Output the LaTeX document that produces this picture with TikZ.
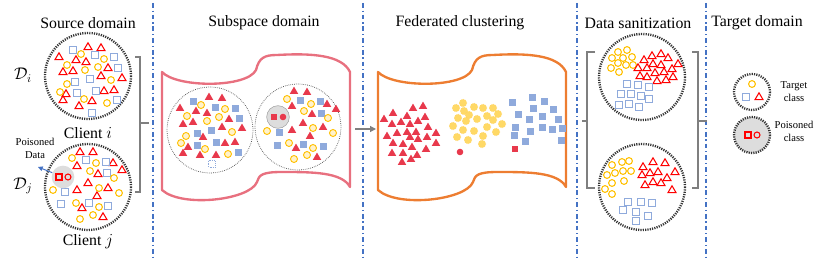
\documentclass[tikz,border=0pt]{standalone}
\usepackage{fontspec}
\setmainfont{Liberation Serif}
\usetikzlibrary{arrows.meta}

\definecolor{mkred}{HTML}{FF0000}
\definecolor{fillred}{HTML}{E8394C}
\definecolor{mkyellow}{HTML}{FFC000}
\definecolor{paleyellow}{HTML}{FFE9A8}
\definecolor{dotyellow}{HTML}{FFD966}
\definecolor{mkblue}{HTML}{8FAADC}
\definecolor{pinkframe}{HTML}{E8707F}
\definecolor{orangeframe}{HTML}{ED7D31}
\definecolor{lineblue}{HTML}{4472C4}
\definecolor{brkgray}{HTML}{7F7F7F}
\definecolor{shadegray}{HTML}{DDDDDD}

\tikzset{
  % outlined markers (source / sanitization / legend)
  otri/.pic={\draw[mkred, line width=0.9pt] (-4,2.6) -- (4,2.6) -- (0,-4.2) -- cycle;},
  osq/.pic={\draw[mkblue, line width=0.9pt] (-3.3,-3.3) rectangle (3.3,3.3);},
  ocirc/.pic={\draw[mkyellow, line width=0.9pt] (0,0) circle (3.4);},
  orsq/.pic={\draw[mkred, line width=0.9pt] (-3,-3) rectangle (3,3);},
  orcirc/.pic={\draw[mkred, line width=0.9pt] (0,0) circle (3);},
  % filled markers (subspace / clustering)
  ftri/.pic={\fill[fillred] (-4.2,2.8) -- (4.2,2.8) -- (0,-4.4) -- cycle;},
  fsq/.pic={\fill[mkblue] (-3.5,-3.5) rectangle (3.5,3.5);},
  ycirc/.pic={\draw[mkyellow, fill=paleyellow!60, line width=0.8pt] (0,0) circle (3.5);},
  fcirc/.pic={\draw[dotyellow!90!orange, fill=dotyellow, line width=0.5pt, densely dotted] (0,0) circle (3.8);},
  dsq/.pic={\draw[mkblue, line width=0.6pt, densely dotted] (-3.3,-3.3) rectangle (3.3,3.3);},
  frsq/.pic={\fill[fillred] (-3.3,-3.3) rectangle (3.3,3.3);},
  frcirc/.pic={\fill[fillred] (0,0) circle (3.3);},
  % wave shaped frame
  wave/.pic={\draw[line width=2pt, line join=round]
    (0,72) .. controls (15,88) and (85,88) .. (94,70)
    .. controls (97,58) and (102,55) .. (115,55)
    .. controls (150,53) and (180,55) .. (188,72) -- (188,187)
    .. controls (180,172) and (150,172) .. (120,172)
    .. controls (100,172) and (97,175) .. (95,182)
    .. controls (88,200) and (20,208) .. (0,190) -- cycle;},
  heading/.style={font=\fontsize{13.5}{15}\selectfont},
  smalltext/.style={font=\fontsize{9}{11}\selectfont, align=center, inner sep=0pt},
  dotring/.style={draw=black!80, line width=2pt, dash pattern=on 1pt off 1pt},
  thinring/.style={draw=black!70, line width=0.6pt, densely dotted},
  divider/.style={lineblue, line width=1pt, dash pattern=on 4pt off 2.5pt on 1pt off 2.5pt},
  brk/.style={brkgray, line width=1pt},
}

\begin{document}
\begin{tikzpicture}[x=0.3mm, y=-0.3mm]
  \useasboundingbox (0,0) rectangle (830,260);

  % ---- headings ----
  \node[heading] (hsrc) at (88,23) {Source domain};
  \node[heading] (hsub) at (264,23) {Subspace domain};
  \node[heading] (hfed) at (460,23) {Federated clustering};
  \node[heading] (hsan) at (638,23) {Data sanitization};
  \node[heading] (htgt) at (757,23) {Target domain};

  % ---- dividers ----
  \foreach \x in {153,363,577,706}
    \draw[divider] (\x,3) -- (\x,258);

  % ---- source domain ----
  \draw[dotring] (88,76) circle (43);
  \draw[dotring] (88,187) circle (43);
  \node[font=\fontsize{14}{14}\selectfont] (di) at (23,75) {$\mathcal{D}_i$};
  \node[font=\fontsize{14}{14}\selectfont] (dj) at (23,186) {$\mathcal{D}_j$};
  \node[heading] (ci) at (88,133) {Client $i$};
  \node[heading] (cj) at (88,242) {Client $j$};

  % client i
  \foreach \p in {(88,47),(101,48),(59,57),(76,60),(86,62),(108,68),(63,72),(73,71),
                  (101,76),(122,78),(66,94),(104,91),(114,90),(63,100),(79,106),(92,101)}
    \pic at \p {otri};
  \foreach \p in {(73,50),(95,55),(114,57),(118,68),(75,82),(90,79),(96,91),(77,93),(117,100),(92,113)}
    \pic at \p {osq};
  \foreach \p in {(81,54),(104,59),(67,65),(85,70),(98,67),(111,80),(67,84),(60,92),(84,99),(107,103)}
    \pic at \p {ocirc};

  % client j
  \foreach \p in {(80,152),(93,152),(77,166),(113,163),(122,170),(98,174),(88,183),(108,188),
                  (77,190),(97,196),(82,208),(103,217)}
    \pic at \p {otri};
  \foreach \p in {(86,160),(106,162),(107,173),(65,192),(61,204),(89,203),(108,206)}
    \pic at \p {osq};
  \foreach \p in {(72,158),(96,163),(90,171),(114,178),(99,188),(119,193),(53,190),(76,203),
                  (99,207),(80,219),(93,215)}
    \pic at \p {ocirc};

  % poisoned data
  \node[circle, fill=shadegray, inner sep=0pt, minimum size=6.8mm] (pdata) at (63,177) {};
  \pic at (59,177) {orsq};
  \pic at (68,177) {orcirc};
  \node[smalltext] (plbl) at (35,148) {Poisoned\\Data};
  \coordinate (ptip) at (38,167);
  \draw[lineblue, line width=0.8pt, -{Triangle[length=4pt,width=4pt]}] (pdata) -- (ptip);

  % bracket
  \draw[brk] (135,57) -- (140,57) -- (140,192) -- (135,192);
  \draw[brk] (140,123) -- (149,123);

  % ---- subspace domain ----
  \pic[color=pinkframe] at (162,0) {wave};
  \draw[thinring] (210,130) circle (43);
  \draw[thinring] (298,127) circle (43);

  \foreach \p in {(209,97),(222,98),(180,108),(196,111),(207,113),(183,124),(193,122),(229,119),
                  (222,127),(242,128),(203,137),(225,143),(235,142),(188,147),(183,153),(200,155),(216,155),
                  (294,91),(307,92),(292,106),(327,104),(336,109),(312,114),(303,123),(323,127),
                  (292,130),(310,136),(296,148),(317,157)}
    \pic at \p {ftri};
  \foreach \p in {(193,101),(215,107),(235,108),(239,118),(197,133),(211,130),(216,142),(197,145),(238,152),
                  (300,100),(320,101),(321,113),(279,132),(277,145),(303,144),(323,146)}
    \pic at \p {fsq};
  \foreach \p in {(201,105),(225,109),(187,116),(207,121),(219,117),(232,132),(186,136),(181,143),(205,149),(228,154),
                  (287,99),(311,104),(304,111),(328,118),(267,131),(313,128),(333,133),(289,143),(313,148),(307,155),(294,159)}
    \pic at \p {ycirc};
  \pic at (212,164) {dsq};

  \node[circle, draw=black!40, fill=shadegray, inner sep=0pt, minimum size=6.8mm] (spois) at (278,117) {};
  \pic at (274,117) {frsq};
  \pic at (283,117) {frcirc};

  % arrow to clustering
  \coordinate (subout) at (355,129);
  \coordinate (fedin) at (376,129);
  \draw[brkgray, line width=1pt, -{Triangle[length=5pt,width=5pt]}] (subout) -- (fedin);

  % ---- federated clustering ----
  \pic[color=orangeframe] at (378,0) {wave};
  \foreach \p in {(384,119),(393,113),(413,108),(423,106),(425,117),(407,116),(401,122),(392,124),
                  (410,124),(418,121),(428,127),(387,136),(397,133),(407,132),(416,132),(436,133),
                  (393,143),(403,144),(410,137),(418,139),(427,137),(436,143),(412,147),(392,153),
                  (403,153),(426,149),(417,155),(411,159),(402,162)}
    \pic at \p {ftri};
  \foreach \p in {(463,103),(456,108),(464,111),(474,107),(483,108),(493,108),(469,115),(458,118),
                  (466,121),(477,119),(487,116),(498,114),(493,120),(453,126),(463,130),(474,131),
                  (487,127),(502,124),(496,132),(457,137),(468,140),(483,136),(482,144)}
    \pic at \p {fcirc};
  \foreach \p in {(512,102),(532,97),(544,101),(553,109),(533,108),(518,114),(529,119),(542,116),
                  (558,119),(515,127),(514,135),(530,131),(542,127),(552,129),(562,128),(525,141),(561,140)}
    \pic at \p {fsq};
  \pic at (460,152) {frcirc};
  \pic at (515,149) {frsq};

  % ---- data sanitization ----
  \draw[dotring] (642,77) circle (43);
  \draw[dotring] (642,187) circle (43);
  \foreach \p in {(618,52),(627,50),(612,58),(623,58),(632,57),(611,68),(618,63),(626,65),(633,65),(619,72),
                  (612,165),(622,162),(629,161),(607,175),(615,173),(623,171),(631,171),(612,183),
                  (624,181),(605,189),(612,194)}
    \pic at \p {ocirc};
  \foreach \p in {(652,56),(661,54),(644,60),(668,58),(653,64),(678,64),(638,68),(647,68),(661,65),
                  (672,69),(640,76),(647,77),(655,73),(664,72),(673,77),(657,81),(666,80),
                  (653,162),(665,163),(643,167),(642,175),(650,173),(658,172),(675,172),(667,178),
                  (645,185),(653,182),(661,183),(672,190)}
    \pic at \p {otri};
  \foreach \p in {(627,84),(638,85),(649,87),(621,94),(631,94),(641,96),(649,99),(619,105),(629,104),(639,107),
                  (628,202),(641,202),(652,203),(623,210),(636,212),(648,216),(636,221)}
    \pic at \p {osq};

  % brackets
  \draw[brk] (595,52) -- (587,52) -- (587,188) -- (595,188);
  \draw[brk] (587,121) -- (582,121);
  \draw[brk] (692,52) -- (698,52) -- (698,188) -- (692,188);
  \draw[brk] (698,121) -- (707,121);

  % ---- target domain legend ----
  \draw[dotring] (752,92) circle (18);
  \pic at (752,84) {ocirc};
  \pic at (746,97) {osq};
  \pic at (759,97) {otri};
  \node[smalltext] (tgtlbl) at (794,92) {Target\\class};

  \draw[dotring, fill=shadegray] (752,135) circle (18);
  \pic at (748,135) {orsq};
  \pic at (757,135) {orcirc};
  \node[smalltext] (poislbl) at (794,131) {Poisoned\\class};

\end{tikzpicture}
\end{document}
